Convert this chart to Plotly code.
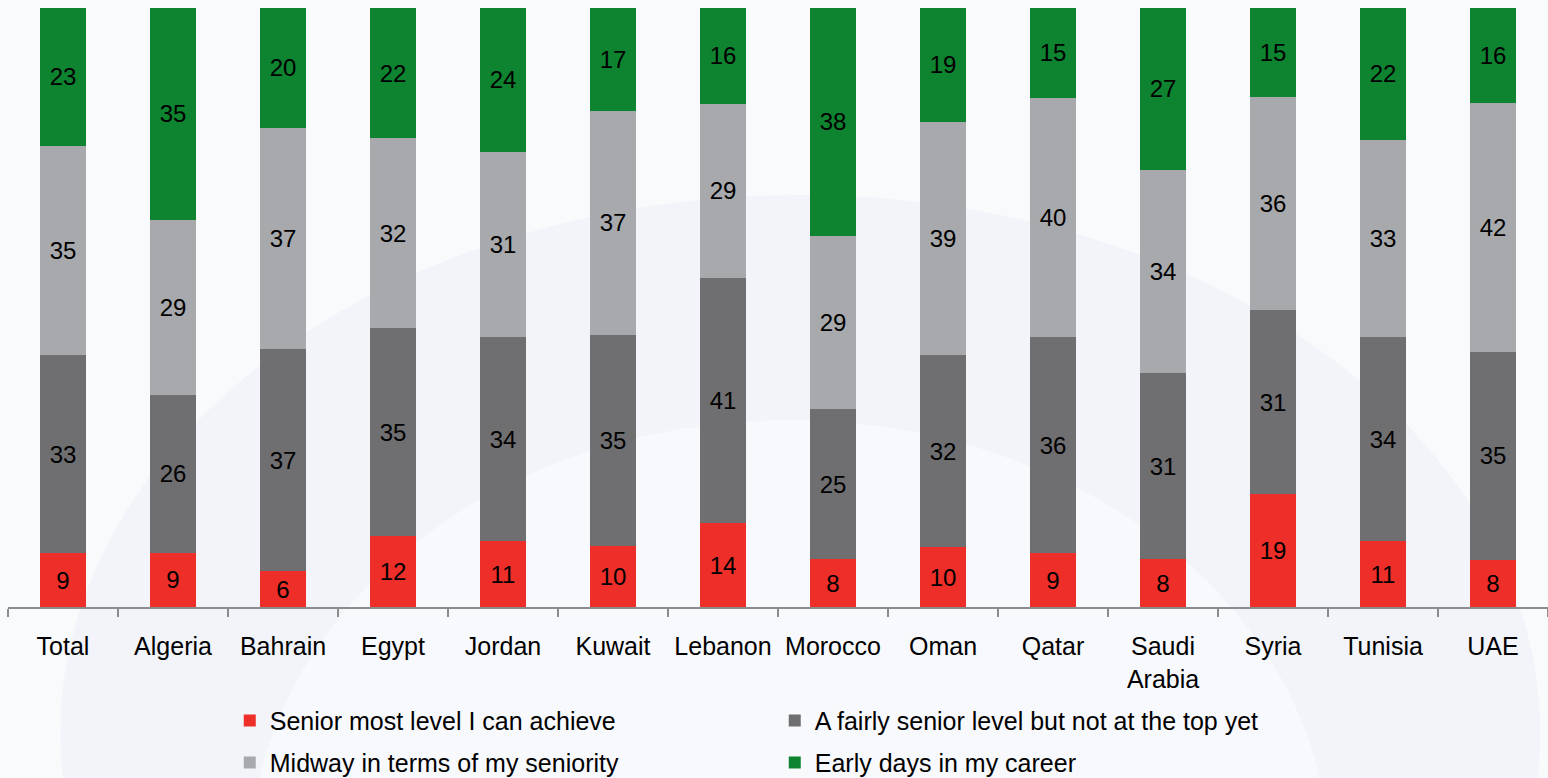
import plotly.graph_objects as go

# Career stage by country (share of respondents, %)
countries = ["Total", "Algeria", "Bahrain", "Egypt", "Jordan", "Kuwait", "Lebanon",
             "Morocco", "Oman", "Qatar", "Saudi<br>Arabia", "Syria", "Tunisia", "UAE"]

senior_most = [9, 9, 6, 12, 11, 10, 14, 8, 10, 9, 8, 19, 11, 8]
fairly_senior = [33, 26, 37, 35, 34, 35, 41, 25, 32, 36, 31, 31, 34, 35]
midway = [35, 29, 37, 32, 31, 37, 29, 29, 39, 40, 34, 36, 33, 42]
early_days = [23, 35, 20, 22, 24, 17, 16, 38, 19, 15, 27, 15, 22, 16]

series = [
    ("Senior most level I can achieve", senior_most, "#ee2e29", "legend"),
    ("A fairly senior level but not at the top yet", fairly_senior, "#6f6f71", "legend"),
    ("Midway in terms of my seniority", midway, "#a8a9ac", "legend2"),
    ("Early days in my career", early_days, "#0e8330", "legend2"),
]

FONT = "Liberation Sans, Arial, sans-serif"

fig = go.Figure()
for name, vals, color, leg in series:
    fig.add_trace(go.Bar(
        x=countries, y=vals, name=name, legend=leg,
        marker=dict(color=color, line=dict(width=0)),
        text=[str(v) for v in vals],
        textposition="inside", insidetextanchor="middle", textangle=0,
        textfont=dict(family=FONT, size=24, color="#000000"),
        constraintext="none",
    ))

# faint ring watermark in the background
shapes = [
    dict(type="circle", xref="paper", yref="paper", layer="below",
         x0=0.034, x1=0.995, y0=-1.108, y1=0.688,
         fillcolor="#f2f4f9", line=dict(width=0)),
    dict(type="circle", xref="paper", yref="paper", layer="below",
         x0=0.157, x1=0.858, y0=-1.157, y1=0.312,
         fillcolor="#f8f9fc", line=dict(width=0)),
]

legend_style = dict(
    orientation="h", xref="paper", yref="paper", xanchor="left", yanchor="middle",
    font=dict(family=FONT, size=25, color="#000000"),
    bgcolor="rgba(0,0,0,0)", entrywidth=500, entrywidthmode="pixels",
    itemwidth=30, traceorder="normal",
)

fig.update_layout(
    width=1548, height=778,
    margin=dict(l=8, r=0, t=8, b=171, autoexpand=False),
    paper_bgcolor="#f9fafc", plot_bgcolor="rgba(0,0,0,0)",
    barmode="stack", barnorm="percent", bargap=0.59,
    showlegend=True,
    legend=dict(x=0.144, y=-0.190, **legend_style),
    legend2=dict(x=0.144, y=-0.260, **legend_style),
    shapes=shapes,
    xaxis=dict(
        type="category", showgrid=False, zeroline=False,
        showline=True, linecolor="#8c8c8c", linewidth=2,
        ticks="outside", tickson="boundaries", ticklen=8, tickcolor="#8c8c8c", tickwidth=2,
        tickfont=dict(family=FONT, size=25, color="#000000"),
        ticklabelstandoff=16,
    ),
    yaxis=dict(range=[0, 100], visible=False, showgrid=False, zeroline=False),
    font=dict(family=FONT),
)

fig.write_html("out.html")
